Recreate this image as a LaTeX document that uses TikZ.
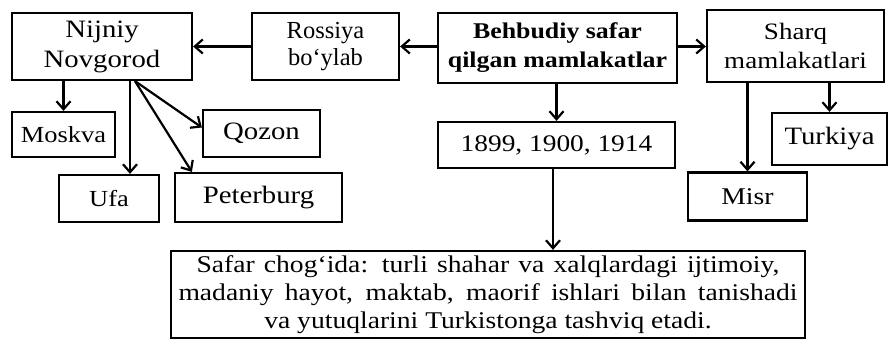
\documentclass[tikz,border=0pt]{standalone}
\usepackage{fontspec}
\setmainfont{Liberation Serif}
\newfontfamily\widefont[FakeStretch=1.15]{Liberation Serif}
\usetikzlibrary{arrows.meta,calc}
\newcommand{\fsz}[1]{\fontsize{#1}{#1}\selectfont}
\begin{document}
\begin{tikzpicture}[x=1pt,y=1pt,
  box/.style={draw, line width=2.2pt, inner sep=0pt, align=center},
  arr/.style={line width=2.2pt, -{Straight Barb[length=8pt,width=14pt,line width=2.2pt]}}]
\useasboundingbox (0,0) rectangle (890,-344);
\node[box, minimum width=180, minimum height=67, font=\widefont\fontsize{25}{30}\selectfont] (nn) at (102,-46.5) {Nijniy\\Novgorod};
\node[box, minimum width=147, minimum height=67, font=\fontsize{24.5}{27}\selectfont] (rb) at (325.5,-46.5) {Rossiya\\bo‘ylab};
\node[box, minimum width=239, minimum height=70, font=\widefont\fontsize{22.5}{29}\selectfont\bfseries] (bb) at (557.5,-48) {Behbudiy safar\\qilgan mamlakatlar};
\node[box, minimum width=177, minimum height=72, font=\widefont\fontsize{23.5}{29}\selectfont] (sq) at (795.5,-46) {Sharq\\mamlakatlari};
\node[box, minimum width=103, minimum height=45, font=\widefont\fsz{23}] (mo) at (63.5,-134.5) {Moskva};
\node[box, minimum width=117, minimum height=47, font=\widefont\fsz{25}] (qz) at (261.5,-133.5) {Qozon};
\node[box, minimum width=100, minimum height=47, font=\widefont\fsz{23}] (uf) at (109,-198.5) {Ufa};
\node[box, minimum width=167, minimum height=49, font=\widefont\fsz{25}] (pb) at (258.5,-197.5) {Peterburg};
\node[box, minimum width=237, minimum height=46, font=\widefont\fsz{23.8}] (yr) at (556.5,-145) {1899, 1900, 1914};
\node[box, minimum width=115, minimum height=52, font=\widefont\fsz{25}] (tk) at (829.5,-139) {Turkiya};
\node[box, minimum width=119, minimum height=48, font=\widefont\fsz{24}] (ms) at (747.5,-196.5) {Misr};
\node[box, minimum width=634, minimum height=87, font=\widefont\fontsize{24}{28}\selectfont] (bt) at (488,-294.5)
  {\makebox[583pt][s]{Safar chog‘ida: turli shahar va xalqlardagi ijtimoiy,}\\
   \makebox[619pt][s]{madaniy hayot, maktab, maorif ishlari bilan tanishadi}\\
   va yutuqlarini Turkistonga tashviq etadi.};
\draw[arr] (rb.west) -- (nn.east);
\draw[arr] (bb.west |- rb.west) -- (rb.east);
\draw[arr] (bb.east |- rb.east) -- (sq.west |- rb.east);
\draw[arr] (bb.south -| yr.north) -- (yr.north);
\draw[arr] ([xshift=-3.5pt]yr.south) -- ([xshift=-3.5pt]yr.south |- bt.north);
\draw[arr] (sq.south -| tk.north) -- (tk.north);
\draw[arr] (sq.south -| ms.north) -- (ms.north);
\draw[arr] (nn.south -| mo.north) -- (mo.north);
\draw[arr] ([xshift=28pt]nn.south) -- ([xshift=21pt]uf.north);
\draw[arr] ([xshift=33pt]nn.south) -- ([yshift=6pt]qz.west);
\draw[arr] ([xshift=33pt]nn.south) -- ([xshift=18pt]pb.north west);
\end{tikzpicture}
\end{document}
